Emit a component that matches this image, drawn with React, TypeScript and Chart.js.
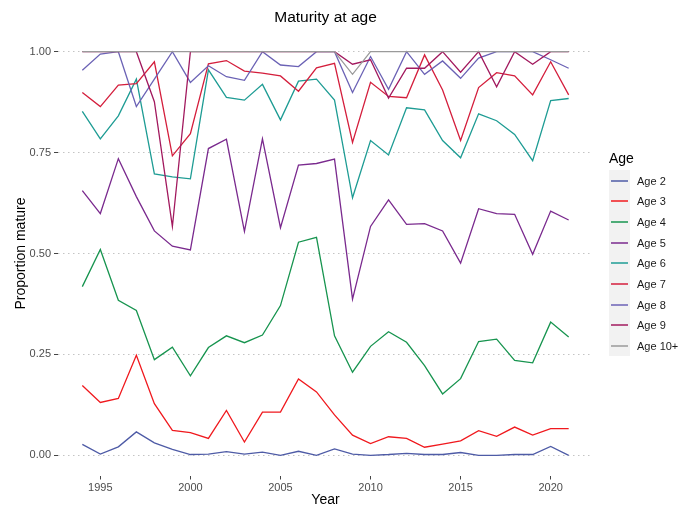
import React, { useEffect, useRef } from 'react';
import { Chart, registerables } from 'chart.js';

Chart.register(...registerables);

const years = [1994, 1995, 1996, 1997, 1998, 1999, 2000, 2001, 2002, 2003, 2004, 2005, 2006, 2007, 2008, 2009, 2010, 2011, 2012, 2013, 2014, 2015, 2016, 2017, 2018, 2019, 2020, 2021];

const seriesNames = ['Age 2', 'Age 3', 'Age 4', 'Age 5', 'Age 6', 'Age 7', 'Age 8', 'Age 9', 'Age 10+'];

const age2 = [0.027, 0.003, 0.021, 0.058, 0.031, 0.015, 0.002, 0.003, 0.009, 0.003, 0.008, 0.000, 0.010, 0.000, 0.016, 0.003, 0.000, 0.002, 0.005, 0.002, 0.002, 0.007, 0.000, 0.000, 0.002, 0.002, 0.022, 0.000];
const age3 = [0.173, 0.131, 0.141, 0.248, 0.128, 0.062, 0.056, 0.042, 0.111, 0.033, 0.107, 0.107, 0.189, 0.157, 0.100, 0.050, 0.029, 0.046, 0.042, 0.020, 0.028, 0.036, 0.061, 0.047, 0.070, 0.050, 0.066, 0.066];
const age4 = [0.418, 0.510, 0.384, 0.359, 0.237, 0.268, 0.197, 0.267, 0.296, 0.279, 0.298, 0.371, 0.528, 0.540, 0.296, 0.206, 0.270, 0.306, 0.280, 0.222, 0.152, 0.190, 0.282, 0.288, 0.235, 0.229, 0.330, 0.293];
const age5 = [0.656, 0.599, 0.735, 0.641, 0.556, 0.518, 0.509, 0.760, 0.783, 0.555, 0.784, 0.564, 0.719, 0.723, 0.734, 0.387, 0.567, 0.633, 0.572, 0.574, 0.556, 0.476, 0.611, 0.599, 0.597, 0.498, 0.605, 0.583];
const age6 = [0.852, 0.784, 0.841, 0.932, 0.697, 0.690, 0.685, 0.955, 0.887, 0.880, 0.919, 0.831, 0.927, 0.932, 0.880, 0.638, 0.780, 0.744, 0.861, 0.856, 0.780, 0.737, 0.846, 0.829, 0.795, 0.730, 0.879, 0.884];
const age7 = [0.899, 0.864, 0.917, 0.921, 0.975, 0.742, 0.797, 0.970, 0.978, 0.952, 0.947, 0.940, 0.902, 0.960, 0.971, 0.775, 0.924, 0.889, 0.886, 0.992, 0.905, 0.780, 0.911, 0.948, 0.940, 0.893, 0.975, 0.893];
const age8 = [0.954, 0.994, 1.000, 0.864, 0.932, 1.000, 0.924, 0.965, 0.938, 0.929, 1.000, 0.967, 0.963, 1.000, 1.000, 0.899, 0.988, 0.907, 1.000, 0.944, 0.977, 0.934, 0.984, 1.000, 1.000, 1.000, 0.980, 0.959];
const age9 = [1.000, 1.000, 1.000, 1.000, 0.876, 0.567, 1.000, 1.000, 1.000, 1.000, 1.000, 1.000, 1.000, 1.000, 1.000, 0.969, 0.980, 0.885, 0.959, 0.959, 1.000, 0.949, 1.000, 0.913, 1.000, 0.969, 1.000, 1.000];
const age10 = [1.000, 1.000, 1.000, 1.000, 1.000, 1.000, 1.000, 1.000, 1.000, 1.000, 1.000, 1.000, 1.000, 1.000, 1.000, 0.944, 1.000, 1.000, 1.000, 1.000, 1.000, 1.000, 1.000, 1.000, 1.000, 1.000, 1.000, 1.000];

const xTickValues = [1995, 2000, 2005, 2010, 2015, 2020];
const yTickValues = [0, 0.25, 0.5, 0.75, 1];

const colors = ['#4E5BA6', '#F0191E', '#17944F', '#7A2A8E', '#1E9C94', '#D41E3C', '#6B62B5', '#A2195E', '#9A9A9A'];

const FONT = '"Liberation Sans", Arial, sans-serif';

const titlePlugin = {
  id: 'ggTitle',
  afterDraw(chart: any) {
    const { ctx, chartArea } = chart;
    ctx.save();
    ctx.font = `15.5px ${FONT}`;
    ctx.fillStyle = '#000';
    ctx.textAlign = 'center';
    ctx.textBaseline = 'alphabetic';
    ctx.fillText('Maturity at age', (chartArea.left + chartArea.right) / 2, 21.7);
    ctx.restore();
  },
};

export default function App() {
  const ref = useRef<HTMLCanvasElement>(null);

  useEffect(() => {
    const all = [age2, age3, age4, age5, age6, age7, age8, age9, age10];
    const chart = new Chart(ref.current as HTMLCanvasElement, {
      type: 'line',
      data: {
        datasets: all.map((vals, i) => ({
          label: seriesNames[i],
          data: years.map((y, j) => ({ x: y, y: vals[j] })),
          borderColor: colors[i],
          backgroundColor: colors[i],
          borderWidth: 1.3,
          pointRadius: 0,
          tension: 0,
          fill: false,
          order: all.length - 1 - i,
        })),
      },
      options: {
        responsive: false,
        animation: false,
        devicePixelRatio: 1,
        layout: { padding: { top: 31.5, right: 85, left: 0, bottom: 0 } },
        plugins: {
          legend: { display: false },
          tooltip: { enabled: false },
          title: { display: false },
        },
        scales: {
          x: {
            type: 'linear',
            min: 1992.65,
            max: 2022.35,
            afterBuildTicks: (s: any) => {
              s.ticks = xTickValues.map((v) => ({ value: v }));
            },
            afterFit: (s: any) => {
              s.height = 34.5;
            },
            grid: {
              drawOnChartArea: false,
              drawTicks: true,
              tickLength: 4,
              tickColor: '#444',
              tickWidth: 1,
            },
            border: { display: false },
            ticks: {
              callback: (v: any) => String(v),
              font: { size: 11, family: FONT },
              color: '#4D4D4D',
              padding: 2,
              maxRotation: 0,
              autoSkip: false,
            },
            title: {
              display: true,
              text: 'Year',
              font: { size: 14, family: FONT },
              color: '#000',
              padding: { top: 0, bottom: 1 },
            },
          },
          y: {
            type: 'linear',
            min: -0.05,
            max: 1.05,
            afterBuildTicks: (s: any) => {
              s.ticks = yTickValues.map((v) => ({ value: v }));
            },
            afterFit: (s: any) => {
              s.width = 58;
            },
            grid: {
              drawOnChartArea: true,
              drawTicks: true,
              tickLength: 4,
              color: '#C4C4C4',
              lineWidth: 1,
              tickColor: '#444',
              tickBorderDash: [4, 0],
            },
            border: { display: false, dash: [1.5, 3.5] },
            ticks: {
              callback: (v: any) => Number(v).toFixed(2),
              font: { size: 11, family: FONT },
              color: '#4D4D4D',
              padding: 3,
            },
            title: {
              display: true,
              text: 'Proportion mature',
              font: { size: 14, family: FONT },
              color: '#000',
              padding: { top: 13, bottom: 0 },
            },
          },
        },
      },
      plugins: [titlePlugin],
    } as any);
    return () => chart.destroy();
  }, []);

  const keyTop = 180.7;
  const keyStep = 20.67;

  return (
    <div style={{ position: 'fixed', left: 0, top: 0, width: 678, height: 510, background: '#fff', fontFamily: FONT }}>
      <canvas ref={ref} width={678} height={510} style={{ position: 'absolute', left: 0, top: 0, width: 678, height: 510 }} />
      <div style={{ position: 'absolute', left: 609, top: 149, fontSize: 14, color: '#000', lineHeight: '18px' }}>Age</div>
      <div style={{ position: 'absolute', left: 609, top: 170, width: 21, height: 186, background: '#F2F2F2' }} />
      {seriesNames.map((name, i) => (
        <React.Fragment key={name}>
          <div
            style={{
              position: 'absolute',
              left: 611,
              top: Math.round(keyTop + i * keyStep) - 1,
              width: 17,
              height: 2,
              background: colors[i],
              opacity: 0.75,
            }}
          />
          <div
            style={{
              position: 'absolute',
              left: 637,
              top: Math.round(keyTop + i * keyStep) - 7,
              fontSize: 11,
              lineHeight: '14px',
              color: '#1A1A1A',
              whiteSpace: 'nowrap',
            }}
          >
            {name}
          </div>
        </React.Fragment>
      ))}
    </div>
  );
}
